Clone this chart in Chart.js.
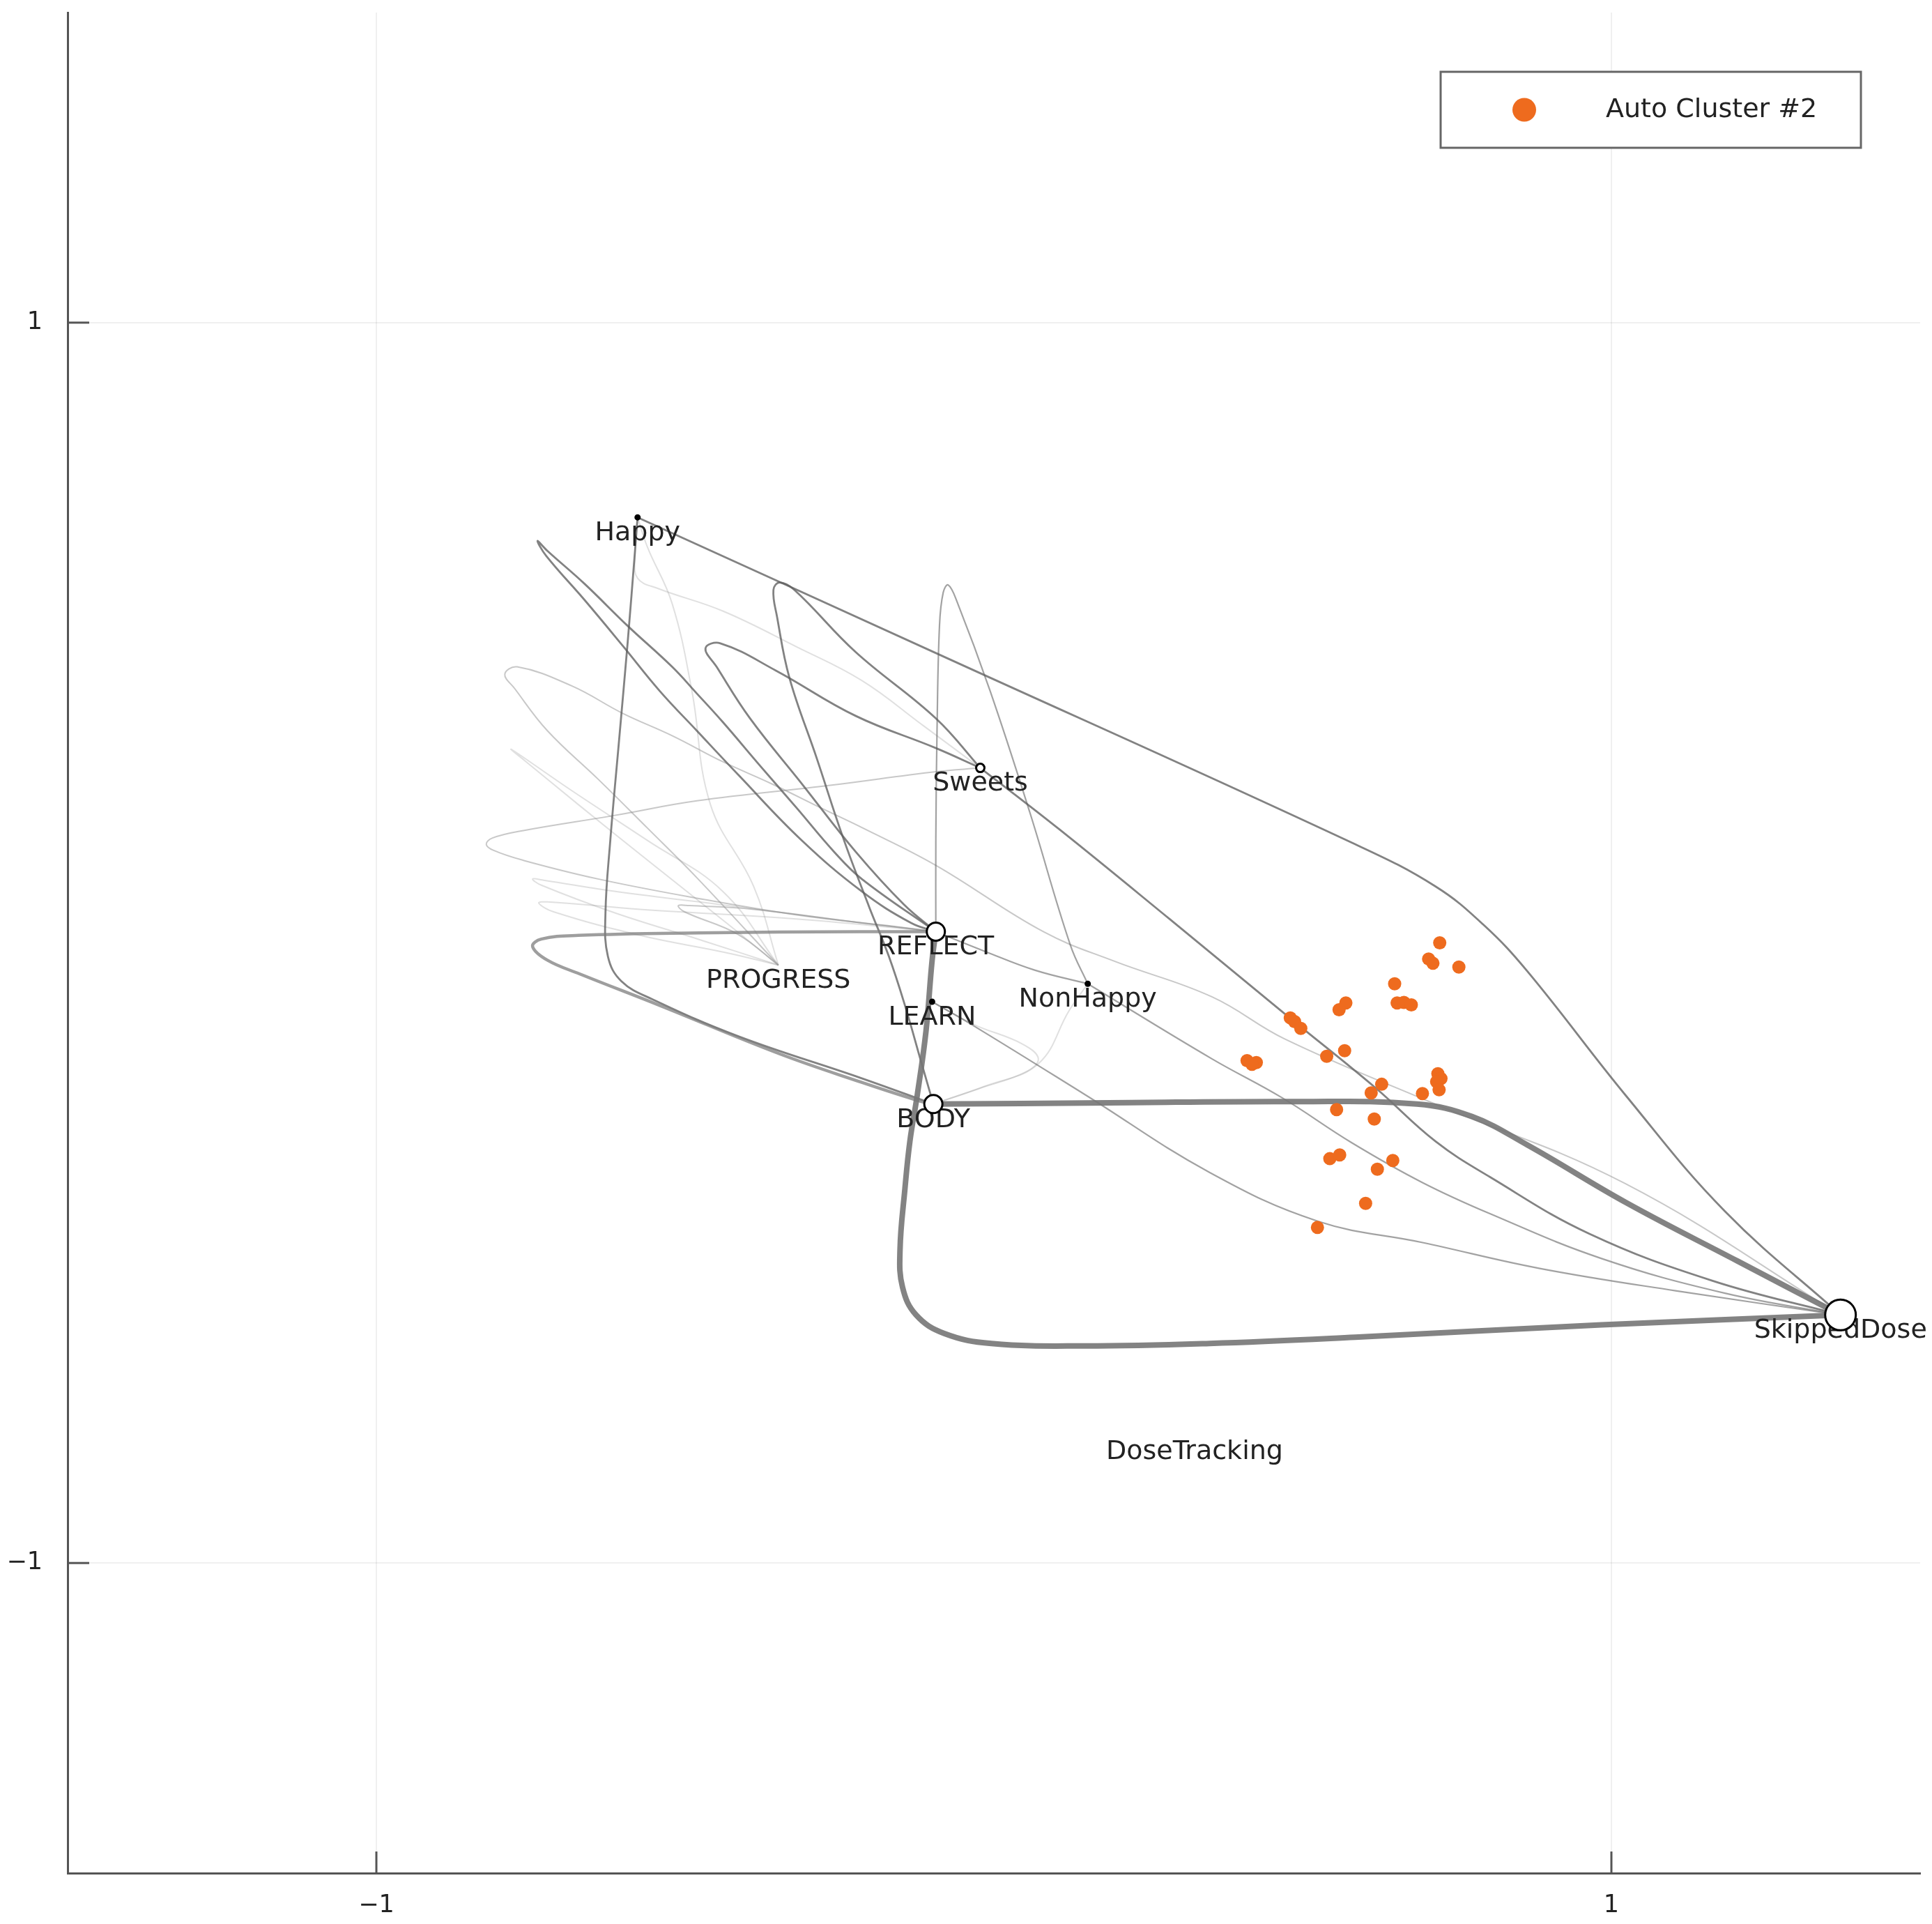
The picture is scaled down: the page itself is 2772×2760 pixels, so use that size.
<!DOCTYPE html>
<html>
<head>
<meta charset="utf-8">
<title>Auto Cluster #2</title>
<script src="https://cdn.jsdelivr.net/npm/chart.js@4.4.1/dist/chart.umd.min.js"></script>
<style>
  html, body { margin: 0; padding: 0; background: #ffffff; }
  canvas { display: block; }
</style>
</head>
<body>
<canvas id="graphPlot" width="2772" height="2760"></canvas>
<script>
const xTicks = [-1, 1];
const yTicks = [-1, 1];

// graph nodes
const nodeNames = ["Happy", "Sweets", "REFLECT", "PROGRESS", "LEARN", "NonHappy", "BODY", "SkippedDose", "DoseTracking"];
const nodeX = [-0.577, -0.022, -0.094, -0.349, -0.100, 0.152, -0.098, 1.371, 0.325];
const nodeY = [0.686, 0.282, 0.018, -0.036, -0.095, -0.066, -0.260, -0.600, -0.795];

// highlighted cluster
const clusterLabel = "Auto Cluster #2";
const clusterX = [0.722, 0.704, 0.711, 0.753, 0.649, 0.653, 0.664, 0.676, 0.570, 0.559, 0.480,
  0.487, 0.497, 0.410, 0.425, 0.418, 0.568, 0.539, 0.628, 0.611, 0.719, 0.724, 0.717, 0.721,
  0.694, 0.555, 0.616, 0.544, 0.560, 0.646, 0.621, 0.602, 0.524];
const clusterY = [0.000, -0.026, -0.033, -0.039, -0.066, -0.097, -0.096, -0.100, -0.097, -0.108, -0.121,
  -0.127, -0.138, -0.190, -0.193, -0.196, -0.174, -0.183, -0.228, -0.242, -0.211, -0.219, -0.224, -0.237,
  -0.243, -0.269, -0.284, -0.348, -0.342, -0.351, -0.365, -0.420, -0.459];

// edges, points
const edgeBodySkipped = [[-0.098, -0.260], [0.186, -0.258], [0.485, -0.256], [0.685, -0.260], [0.774, -0.280],
  [0.864, -0.326], [1.024, -0.419], [1.204, -0.513], [1.371, -0.600]];
const edgeReflectSkipped = [[-0.094, 0.018], [-0.100, -0.028], [-0.110, -0.143], [-0.124, -0.245], [-0.136, -0.320],
  [-0.144, -0.396], [-0.152, -0.495], [-0.148, -0.555], [-0.126, -0.600], [-0.080, -0.630], [-0.004, -0.646],
  [0.148, -0.650], [0.349, -0.646], [0.585, -0.636], [0.984, -0.616], [1.371, -0.600]];
const edgeReflectBody = [[-0.094, 0.018], [-0.218, 0.018], [-0.477, 0.016], [-0.673, 0.012], [-0.733, 0.006],
  [-0.747, -0.006], [-0.723, -0.028], [-0.671, -0.050], [-0.541, -0.101], [-0.347, -0.179], [-0.214, -0.225],
  [-0.124, -0.254], [-0.098, -0.260]];
const edgeHappySkipped = [[-0.577, 0.686], [-0.100, 0.470], [0.585, 0.159], [0.715, 0.091], [0.794, 0.028],
  [0.864, -0.046], [1.024, -0.247], [1.184, -0.433], [1.371, -0.600]];
const edgeHappyBody = [[-0.577, 0.686], [-0.581, 0.634], [-0.593, 0.485], [-0.607, 0.326], [-0.621, 0.167],
  [-0.629, 0.048], [-0.625, -0.022], [-0.603, -0.062], [-0.553, -0.091], [-0.413, -0.151], [-0.218, -0.217],
  [-0.098, -0.260]];
const edgeReflectLoop = [[-0.094, 0.018], [-0.214, 0.103], [-0.259, 0.147], [-0.319, 0.217], [-0.379, 0.286],
  [-0.439, 0.356], [-0.481, 0.402], [-0.521, 0.445], [-0.593, 0.511], [-0.663, 0.579], [-0.723, 0.632],
  [-0.739, 0.648], [-0.725, 0.624], [-0.663, 0.553], [-0.601, 0.479], [-0.541, 0.406], [-0.481, 0.342],
  [-0.413, 0.270], [-0.313, 0.167], [-0.214, 0.083], [-0.134, 0.032], [-0.094, 0.018]];
const edgeBodySweets = [[-0.098, -0.260], [-0.118, -0.191], [-0.144, -0.101], [-0.170, -0.022], [-0.202, 0.058],
  [-0.244, 0.169], [-0.287, 0.298], [-0.331, 0.427], [-0.351, 0.525], [-0.357, 0.569], [-0.347, 0.581],
  [-0.323, 0.569], [-0.224, 0.469], [-0.094, 0.362], [-0.022, 0.282]];
const edgeSweetsSkipped = [[-0.022, 0.282], [0.106, 0.183], [0.285, 0.038], [0.479, -0.121], [0.617, -0.233],
  [0.715, -0.320], [0.804, -0.378], [0.964, -0.469], [1.164, -0.545], [1.371, -0.600]];
const edgeReflectSweets = [[-0.094, 0.018], [-0.146, 0.062], [-0.224, 0.147], [-0.309, 0.254], [-0.395, 0.362],
  [-0.449, 0.445], [-0.467, 0.475], [-0.443, 0.483], [-0.353, 0.439], [-0.224, 0.366], [-0.094, 0.314],
  [-0.022, 0.282]];
const edgeReflectNonHappyLoop = [[-0.094, 0.018], [-0.094, 0.167], [-0.092, 0.346], [-0.088, 0.513],
  [-0.082, 0.565], [-0.074, 0.577], [-0.060, 0.551], [-0.006, 0.406], [0.058, 0.211], [0.124, -0.004],
  [0.152, -0.066]];
const edgeSweetsReflect = [[-0.022, 0.282], [-0.094, 0.276], [-0.265, 0.254], [-0.481, 0.229], [-0.617, 0.205],
  [-0.762, 0.181], [-0.812, 0.169], [-0.822, 0.159], [-0.810, 0.149], [-0.762, 0.133], [-0.641, 0.103],
  [-0.481, 0.072], [-0.313, 0.044], [-0.174, 0.028], [-0.094, 0.018]];
const edgeProgressSkipped = [[-0.349, -0.036], [-0.481, 0.105], [-0.561, 0.185], [-0.641, 0.264], [-0.723, 0.342],
  [-0.776, 0.410], [-0.792, 0.433], [-0.772, 0.445], [-0.683, 0.414], [-0.601, 0.370], [-0.521, 0.334],
  [-0.439, 0.292], [-0.359, 0.256], [-0.279, 0.217], [-0.212, 0.185], [-0.094, 0.125], [0.080, 0.018],
  [0.196, -0.030], [0.353, -0.087], [0.471, -0.155], [0.705, -0.256], [1.022, -0.388], [1.371, -0.600]];
const edgeReflectProgressA = [[-0.094, 0.018], [-0.214, 0.032], [-0.413, 0.058], [-0.613, 0.083], [-0.729, 0.101],
  [-0.747, 0.103], [-0.733, 0.093], [-0.613, 0.048], [-0.473, 0.004], [-0.349, -0.036]];
const edgeReflectProgressB = [[-0.094, 0.018], [-0.313, 0.038], [-0.573, 0.054], [-0.723, 0.066], [-0.737, 0.064],
  [-0.713, 0.050], [-0.573, 0.012], [-0.433, -0.016], [-0.349, -0.036]];
const edgeReflectProgressC = [[-0.094, 0.018], [-0.214, 0.032], [-0.389, 0.054], [-0.493, 0.060], [-0.511, 0.060],
  [-0.501, 0.050], [-0.415, 0.014], [-0.349, -0.036]];
const edgeHappyProgress = [[-0.577, 0.686], [-0.561, 0.638], [-0.521, 0.547], [-0.489, 0.406], [-0.459, 0.223],
  [-0.389, 0.091], [-0.349, -0.036]];
const edgeHappySweets = [[-0.577, 0.686], [-0.581, 0.624], [-0.577, 0.588], [-0.543, 0.571], [-0.439, 0.535],
  [-0.319, 0.477], [-0.214, 0.423], [-0.114, 0.350], [-0.022, 0.282]];
const edgeNonHappySkipped = [[0.152, -0.066], [0.353, -0.187], [0.467, -0.250], [0.579, -0.322], [0.693, -0.386],
  [0.804, -0.437], [0.984, -0.509], [1.184, -0.565], [1.371, -0.600]];
const edgeReflectNonHappy = [[-0.094, 0.018], [-0.014, -0.014], [0.066, -0.044], [0.152, -0.066]];
const edgeLearnSkipped = [[-0.100, -0.095], [-0.034, -0.133], [0.148, -0.245], [0.349, -0.370], [0.525, -0.449],
  [0.693, -0.483], [0.884, -0.525], [1.104, -0.561], [1.371, -0.600]];
const edgeNonHappyBody = [[0.152, -0.066], [0.122, -0.109], [0.072, -0.195], [-0.014, -0.231], [-0.098, -0.260]];
const edgeLearnBody = [[-0.100, -0.095], [-0.034, -0.131], [0.046, -0.163], [0.072, -0.187], [0.050, -0.209],
  [-0.024, -0.235], [-0.098, -0.260]];
const edgeProgressLoop = [[-0.349, -0.036], [-0.439, 0.083], [-0.561, 0.165], [-0.683, 0.245], [-0.772, 0.306],
  [-0.782, 0.312], [-0.760, 0.294], [-0.673, 0.223], [-0.553, 0.127], [-0.433, 0.032], [-0.349, -0.036]];

// styling
const edgeStyles = {
  thick: { width: 8, color: "rgba(118,118,118,0.9)" },
  heavy: { width: 4.5, color: "rgba(125,125,125,0.75)" },
  mid: { width: 2.8, color: "rgba(95,95,95,0.78)" },
  thin: { width: 2.2, color: "rgba(105,105,105,0.62)" },
  light: { width: 2, color: "rgba(145,145,145,0.5)" },
  faint: { width: 2, color: "rgba(160,160,160,0.32)" }
};

const edges = [
  { points: edgeProgressLoop, kind: "faint" },
  { points: edgeLearnBody, kind: "faint" },
  { points: edgeNonHappyBody, kind: "faint" },
  { points: edgeHappySweets, kind: "faint" },
  { points: edgeHappyProgress, kind: "faint" },
  { points: edgeReflectProgressA, kind: "faint" },
  { points: edgeReflectProgressB, kind: "faint" },
  { points: edgeReflectProgressC, kind: "light" },
  { points: edgeSweetsReflect, kind: "light" },
  { points: edgeProgressSkipped, kind: "light" },
  { points: edgeReflectNonHappy, kind: "thin" },
  { points: edgeLearnSkipped, kind: "thin" },
  { points: edgeNonHappySkipped, kind: "thin" },
  { points: edgeReflectNonHappyLoop, kind: "thin" },
  { points: edgeReflectSweets, kind: "mid" },
  { points: edgeSweetsSkipped, kind: "mid" },
  { points: edgeBodySweets, kind: "mid" },
  { points: edgeReflectLoop, kind: "mid" },
  { points: edgeHappyBody, kind: "mid" },
  { points: edgeHappySkipped, kind: "mid" },
  { points: edgeReflectBody, kind: "heavy" },
  { points: edgeReflectSkipped, kind: "thick" },
  { points: edgeBodySkipped, kind: "thick" }
];

const nodeRadius = [3, 6, 13, 0, 3, 3, 13, 22, 0];
const nodeFill = ["#000000", "#ffffff", "#ffffff", "#ffffff", "#000000", "#000000", "#ffffff", "#ffffff", "#ffffff"];
const clusterColor = "#EE6B1E";
const axisColor = "#555555";
const textColor = "#222222";
const fontFamily = "'DejaVu Sans', sans-serif";

function tickText(v) {
  return v < 0 ? "\u2212" + Math.abs(v) : String(v);
}

function buildDatasets() {
  const sets = [];

  sets.push({
    label: "nodes",
    data: nodeX.map((x, i) => ({ x: x, y: nodeY[i] })),
    pointRadius: nodeRadius,
    pointBackgroundColor: nodeFill,
    pointBorderColor: "#000000",
    pointBorderWidth: 3,
    showLine: false,
    order: 0
  });

  sets.push({
    label: clusterLabel,
    data: clusterX.map((x, i) => ({ x: x, y: clusterY[i] })),
    pointRadius: 9.5,
    pointBackgroundColor: clusterColor,
    pointBorderWidth: 0,
    showLine: false,
    order: 1
  });

  edges.forEach((edge, i) => {
    const style = edgeStyles[edge.kind];
    sets.push({
      label: "edge" + i,
      data: edge.points.map(p => ({ x: p[0], y: p[1] })),
      showLine: true,
      pointRadius: 0,
      borderColor: style.color,
      borderWidth: style.width,
      tension: 0.4,
      fill: false,
      order: 100 - i
    });
  });

  return sets;
}

// node names, inward tick marks and the framed legend
const overlayPlugin = {
  id: "overlay",
  afterDatasetDraw(chart, args) {
    if (args.meta.label !== clusterLabel) return;
    const { ctx, scales: { x, y } } = chart;
    ctx.save();
    ctx.font = "38px " + fontFamily;
    ctx.fillStyle = textColor;
    ctx.textAlign = "center";
    ctx.textBaseline = "middle";
    nodeNames.forEach((name, i) => {
      ctx.fillText(name, x.getPixelForValue(nodeX[i]), y.getPixelForValue(nodeY[i]) + 23);
    });
    ctx.restore();
  },
  afterDatasetsDraw(chart) {
    const { ctx, chartArea, scales: { x, y } } = chart;
    ctx.save();

    ctx.strokeStyle = axisColor;
    ctx.lineWidth = 3;
    xTicks.forEach(v => {
      const px = x.getPixelForValue(v);
      ctx.beginPath();
      ctx.moveTo(px, chartArea.bottom);
      ctx.lineTo(px, chartArea.bottom - 31);
      ctx.stroke();
    });
    yTicks.forEach(v => {
      const py = y.getPixelForValue(v);
      ctx.beginPath();
      ctx.moveTo(chartArea.left, py);
      ctx.lineTo(chartArea.left + 31, py);
      ctx.stroke();
    });

    const boxW = 603;
    const boxH = 109;
    const boxL = chartArea.right - 85 - boxW;
    const boxT = chartArea.top + 85;
    ctx.fillStyle = "#ffffff";
    ctx.fillRect(boxL, boxT, boxW, boxH);
    ctx.strokeStyle = "#666666";
    ctx.lineWidth = 3;
    ctx.strokeRect(boxL, boxT, boxW, boxH);

    ctx.fillStyle = clusterColor;
    ctx.beginPath();
    ctx.arc(boxL + 120, boxT + boxH / 2, 17, 0, Math.PI * 2);
    ctx.fill();

    ctx.font = "38px " + fontFamily;
    ctx.fillStyle = textColor;
    ctx.textAlign = "left";
    ctx.textBaseline = "middle";
    ctx.fillText(clusterLabel, boxL + 237, boxT + boxH / 2 + 1);

    ctx.restore();
  }
};

function renderGraph() {
  const ctx = document.getElementById("graphPlot").getContext("2d");

  new Chart(ctx, {
    type: "scatter",
    data: { datasets: buildDatasets() },
    plugins: [overlayPlugin],
    options: {
      responsive: false,
      animation: false,
      devicePixelRatio: 1,
      events: [],
      layout: { autoPadding: false, padding: { top: 18, right: 17, left: 0, bottom: 0 } },
      plugins: {
        legend: { display: false },
        tooltip: { enabled: false }
      },
      scales: {
        x: {
          type: "linear",
          min: -1.5,
          max: 1.5,
          afterBuildTicks: scale => { scale.ticks = xTicks.map(v => ({ value: v })); },
          afterFit: scale => {
            scale.height = 73;
            scale.paddingLeft = 0;
            scale.paddingRight = 0;
          },
          grid: { color: "rgba(0,0,0,0.06)", lineWidth: 2, drawTicks: false },
          border: { color: axisColor, width: 3 },
          ticks: {
            padding: 26,
            color: textColor,
            font: { family: fontFamily, size: 35 },
            callback: v => tickText(v)
          }
        },
        y: {
          type: "linear",
          min: -1.5,
          max: 1.5,
          afterBuildTicks: scale => { scale.ticks = yTicks.map(v => ({ value: v })); },
          afterFit: scale => {
            scale.width = 97;
            scale.paddingTop = 0;
            scale.paddingBottom = 0;
          },
          grid: { color: "rgba(0,0,0,0.06)", lineWidth: 2, drawTicks: false },
          border: { color: axisColor, width: 3 },
          ticks: {
            padding: 36,
            color: textColor,
            font: { family: fontFamily, size: 35 },
            callback: v => tickText(v)
          }
        }
      }
    }
  });
}

renderGraph();
</script>
</body>
</html>
